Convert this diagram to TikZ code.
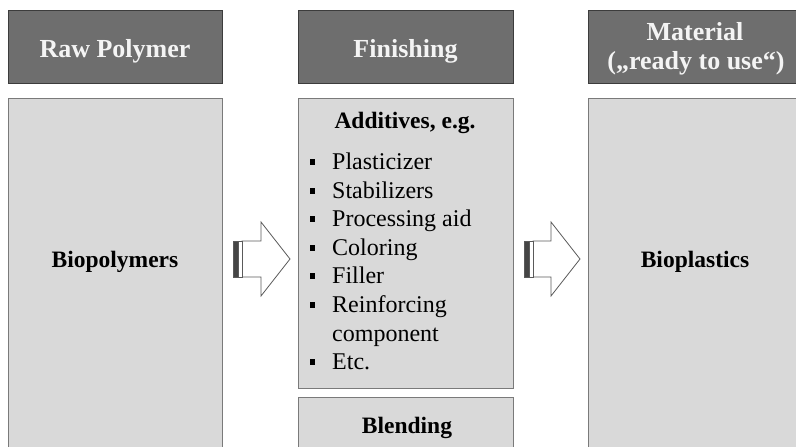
\documentclass[tikz,border=0pt]{standalone}
\usepackage{fontspec}
\setmainfont{Liberation Serif}
\definecolor{hdrfill}{HTML}{6E6E6E}
\definecolor{hdrdraw}{HTML}{3C3C3C}
\definecolor{hdrtext}{HTML}{F4F4F4}
\definecolor{bodyfill}{HTML}{D9D9D9}
\definecolor{bodydraw}{HTML}{7A7A7A}
\definecolor{arrowdraw}{HTML}{5A5A5A}
\definecolor{stripe}{HTML}{454545}
\tikzset{
  hdrbox/.style={draw=hdrdraw, fill=hdrfill, line width=1.3pt, anchor=north west, inner sep=0pt, minimum height=73pt},
  bodybox/.style={draw=bodydraw, fill=bodyfill, line width=0.9pt, anchor=north west, inner sep=0pt},
  hdrtxt/.style={text=hdrtext, font=\fontsize{26}{30}\selectfont\bfseries, anchor=base, inner sep=0pt, align=center},
  titletxt/.style={font=\fontsize{23.5}{28}\selectfont\bfseries, anchor=base, inner sep=0pt},
  itemtxt/.style={font=\fontsize{24}{28}\selectfont, anchor=base west, inner sep=0pt},
  bul/.style={fill=black, minimum size=5.5pt, inner sep=0pt},
  blockarrow/.style={draw=arrowdraw, fill=white, line width=0.8pt, line join=miter},
}
\begin{document}
\begin{tikzpicture}[x=1pt,y=-1pt]
\useasboundingbox (0,0) rectangle (796,447);
\begin{scope}
\clip (0,0) rectangle (796,447);
% header boxes
\node[hdrbox, minimum width=214pt] (hraw) at (8,10) {};
\node[hdrbox, minimum width=215pt] (hfin) at (298,10) {};
\node[hdrbox, minimum width=215pt] (hmat) at (588,10) {};
\node[hdrtxt] (traw) at (115,57) {Raw Polymer};
\node[hdrtxt] (tfin) at (405.5,57) {Finishing};
\node[hdrtxt] (tmat1) at (695,40) {Material};
\node[hdrtxt] (tmat2) at (696,69) {(„ready to use“)};
% body boxes
\node[bodybox, minimum width=214pt, minimum height=370pt] (braw) at (8,98) {};
\node[bodybox, minimum width=215pt, minimum height=290pt] (badd) at (298,98) {};
\node[bodybox, minimum width=215pt, minimum height=80pt] (bble) at (298,397) {};
\node[bodybox, minimum width=215pt, minimum height=370pt] (bmat) at (588,98) {};
\node[titletxt] (tbio) at (115,267) {Biopolymers};
\node[titletxt] (tpla) at (695,267) {Bioplastics};
\node[titletxt] (tadd) at (405,128) {Additives, e.g.};
\node[titletxt] (tble) at (407,433) {Blending};
% list
\node[itemtxt] (i1) at (332,169) {Plasticizer};
\node[itemtxt] (i2) at (332,198) {Stabilizers};
\node[itemtxt] (i3) at (332,226) {Processing aid};
\node[itemtxt] (i4) at (332,255) {Coloring};
\node[itemtxt] (i5) at (332,283) {Filler};
\node[itemtxt] (i6) at (332,312) {Reinforcing};
\node[itemtxt] (i7) at (332,341) {component};
\node[itemtxt] (i8) at (332,369) {Etc.};
\node[bul] (b1) at (312.5,162) {};
\node[bul] (b2) at (312.5,191) {};
\node[bul] (b3) at (312.5,219) {};
\node[bul] (b4) at (312.5,248) {};
\node[bul] (b5) at (312.5,276) {};
\node[bul] (b6) at (312.5,305) {};
\node[bul] (b8) at (312.5,362) {};
% block arrow 1
\draw[blockarrow] (242,241) -- (261,241) -- (261,222) -- (290,259) -- (261,296) -- (261,277) -- (242,277) -- cycle;
\draw[draw=arrowdraw, fill=stripe, line width=0.6pt] (233,241) rectangle (238,277);
\draw[draw=arrowdraw, fill=white, line width=0.6pt] (238,241) rectangle (242,277);
% block arrow 2
\draw[blockarrow] (533,241) -- (551,241) -- (551,222) -- (580,259) -- (551,296) -- (551,277) -- (533,277) -- cycle;
\draw[draw=arrowdraw, fill=stripe, line width=0.6pt] (524,241) rectangle (529,277);
\draw[draw=arrowdraw, fill=white, line width=0.6pt] (529,241) rectangle (533,277);
\end{scope}
\end{tikzpicture}
\end{document}
